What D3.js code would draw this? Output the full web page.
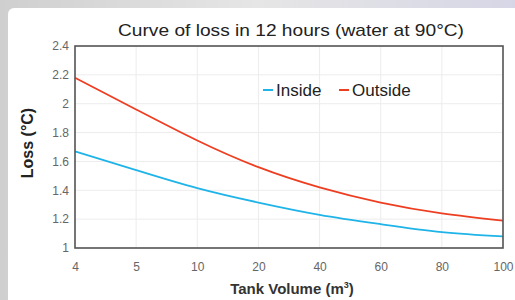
<!DOCTYPE html>
<html>
<head>
<meta charset="utf-8">
<script src="https://cdn.jsdelivr.net/npm/d3@7"></script>
<style>
  html, body { margin: 0; padding: 0; }
  body { width: 515px; height: 300px; overflow: hidden; font-family: "Liberation Sans", Arial, sans-serif; }
</style>
</head>
<body>
<div id="chart"></div>
<script>
// categories on the x axis (evenly spaced, not linear)
const volumes = ["4", "5", "10", "20", "40", "60", "80", "100"];
// loss in °C after 12 hours
const insideLoss = [1.67, 1.54, 1.415, 1.315, 1.23, 1.165, 1.11, 1.08];
const outsideLoss = [2.18, 1.96, 1.745, 1.56, 1.42, 1.315, 1.24, 1.19];
const yTicks = [1, 1.2, 1.4, 1.6, 1.8, 2, 2.2, 2.4];
const seriesNames = ["Inside", "Outside"];
const seriesColors = ["#1fb4e8", "#ee3e22"];

const W = 515, H = 300;
const margin = {top: 46, right: 12, bottom: 52, left: 75};

const svg = d3.select("#chart").append("svg")
    .attr("width", W).attr("height", H);

// backdrop: grey brushed edge with the white panel on top
const defs = svg.append("defs");
const bg = defs.append("linearGradient").attr("id", "bg")
    .attr("x1", "0").attr("y1", "0").attr("x2", "1").attr("y2", "0");
bg.append("stop").attr("offset", "0").attr("stop-color", "#cfcfcf");
bg.append("stop").attr("offset", "0.5").attr("stop-color", "#e6e6e6");
bg.append("stop").attr("offset", "1").attr("stop-color", "#d6d6e6");
svg.append("rect").attr("width", W).attr("height", H).attr("fill", "url(#bg)");
svg.append("rect")
    .attr("x", 8).attr("y", 8).attr("width", W).attr("height", H)
    .attr("rx", 6).attr("fill", "#ffffff");

const width = W - margin.left - margin.right;
const height = H - margin.top - margin.bottom;

const x = d3.scalePoint().domain(volumes).range([0, width]);
const y = d3.scaleLinear().domain([1, 2.4]).range([height, 0]);

const plot = svg.append("g")
    .attr("transform", "translate(" + margin.left + "," + margin.top + ")");

// grid
plot.append("g").selectAll("line").data(volumes).join("line")
    .attr("x1", d => x(d)).attr("x2", d => x(d))
    .attr("y1", 0).attr("y2", height)
    .attr("stroke", "#ececec").attr("stroke-width", 1);
plot.append("g").selectAll("line").data(yTicks).join("line")
    .attr("x1", 0).attr("x2", width)
    .attr("y1", d => y(d)).attr("y2", d => y(d))
    .attr("stroke", "#ececec").attr("stroke-width", 1);

// axes (labels only, frame drawn below)
const xAxis = plot.append("g")
    .attr("transform", "translate(0," + height + ")")
    .call(d3.axisBottom(x).tickSize(0).tickPadding(14));
const yAxis = plot.append("g")
    .call(d3.axisLeft(y).tickValues(yTicks).tickFormat(d3.format("~g")).tickSize(0).tickPadding(6));
[xAxis, yAxis].forEach(a => {
    a.select(".domain").remove();
    a.selectAll("text")
        .attr("fill", "#666")
        .style("font-size", "12px")
        .style("font-family", "'Liberation Sans', Arial, sans-serif");
});

// lines
const line = d3.line()
    .x((d, i) => x(volumes[i]))
    .y(d => y(d))
    .curve(d3.curveNatural);

[insideLoss, outsideLoss].forEach((vals, k) => {
    plot.append("path")
        .datum(vals)
        .attr("d", line)
        .attr("fill", "none")
        .attr("stroke", seriesColors[k])
        .attr("stroke-width", 1.8);
});

// frame
plot.append("rect")
    .attr("x", 0).attr("y", 0).attr("width", width).attr("height", height)
    .attr("fill", "none").attr("stroke", "#555").attr("stroke-width", 1.6);

// legend
const legend = plot.append("g").attr("transform", "translate(188,44)");
let lx = 0;
seriesNames.forEach((name, k) => {
    const g = legend.append("g").attr("transform", "translate(" + lx + ",0)");
    g.append("line").attr("x1", 0).attr("x2", 10).attr("y1", 0).attr("y2", 0)
        .attr("stroke", seriesColors[k]).attr("stroke-width", 2);
    g.append("text").attr("x", 13).attr("y", 0).attr("dy", "0.35em")
        .style("font-size", "17px").attr("fill", "#222")
        .text(name);
    lx += k === 0 ? 76 : 0;
});

// title and axis labels
svg.append("text")
    .attr("x", 291).attr("y", 36)
    .style("text-anchor", "middle").style("font-size", "17px").attr("fill", "#222")
    .attr("textLength", 346).attr("lengthAdjust", "spacingAndGlyphs")
    .text("Curve of loss in 12 hours (water at 90°C)");

svg.append("text")
    .attr("x", 292).attr("y", 294)
    .style("text-anchor", "middle").style("font-size", "15px").style("font-weight", "bold")
    .attr("fill", "#333")
    .html("Tank Volume (m<tspan dy='-6' style='font-size:9px'>3</tspan><tspan dy='6'>)</tspan>");

svg.append("text")
    .attr("transform", "translate(33,143) rotate(-90)")
    .style("text-anchor", "middle").style("font-size", "16px").style("font-weight", "bold")
    .attr("fill", "#222")
    .text("Loss (°C)");
</script>
</body>
</html>
